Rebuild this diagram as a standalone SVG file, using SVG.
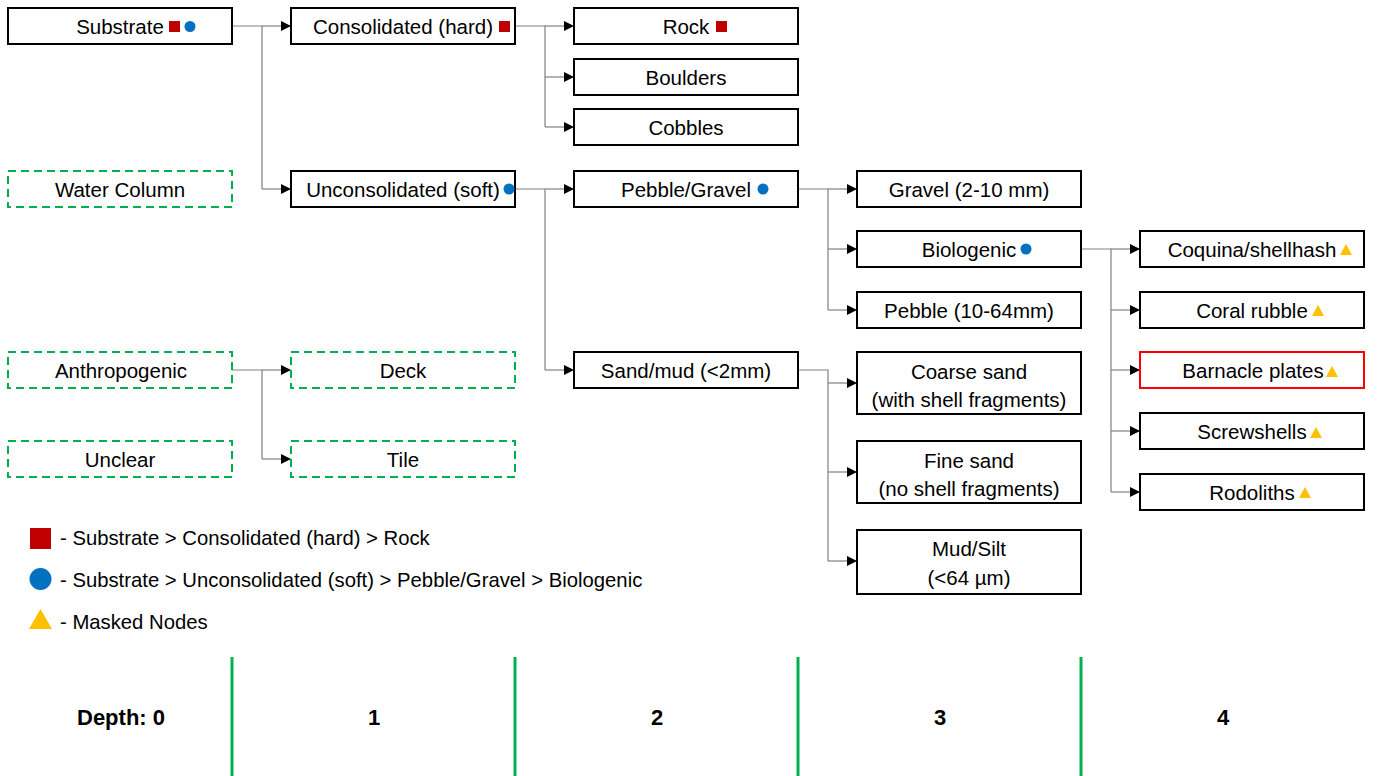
<svg xmlns="http://www.w3.org/2000/svg" width="1382" height="776" viewBox="0 0 1382 776">
<style>
  .box{fill:#fff;stroke:#000;stroke-width:2}
  .dash{fill:#fff;stroke:#00b050;stroke-width:2;stroke-dasharray:8 5}
  .red{fill:#fff;stroke:#ff0000;stroke-width:2}
  .t{font-family:"Liberation Sans",Arial,sans-serif;font-size:20.5px;fill:#000;text-anchor:middle}
  .lg{font-family:"Liberation Sans",Arial,sans-serif;font-size:20.3px;fill:#000}
  .d{font-family:"Liberation Sans",Arial,sans-serif;font-size:22px;font-weight:bold;fill:#000;text-anchor:middle}
  .c{fill:none;stroke:#808080;stroke-width:1.2}
  .sq{fill:#c00000}
  .ci{fill:#0070c0}
  .tr{fill:#ffc000}
  .g{stroke:#00b050;stroke-width:3}
</style>
<defs>
  <marker id="ah" markerWidth="10" markerHeight="10" refX="9" refY="5" orient="auto" markerUnits="userSpaceOnUse">
    <path d="M0,0 L10,5 L0,10 z" fill="#000"/>
  </marker>
</defs>

<g id="connectors">
  <path class="c" d="M232,26 H262 V189"/>
  <path class="c" d="M262,26 H290" marker-end="url(#ah)"/>
  <path class="c" d="M262,189 H290" marker-end="url(#ah)"/>

  <path class="c" d="M515,26 H545 V127"/>
  <path class="c" d="M545,26 H573" marker-end="url(#ah)"/>
  <path class="c" d="M545,77 H573" marker-end="url(#ah)"/>
  <path class="c" d="M545,127 H573" marker-end="url(#ah)"/>

  <path class="c" d="M515,189 H545 V370"/>
  <path class="c" d="M545,189 H573" marker-end="url(#ah)"/>
  <path class="c" d="M545,370 H573" marker-end="url(#ah)"/>

  <path class="c" d="M798,189 H828 V310"/>
  <path class="c" d="M828,189 H856" marker-end="url(#ah)"/>
  <path class="c" d="M828,249 H856" marker-end="url(#ah)"/>
  <path class="c" d="M828,310 H856" marker-end="url(#ah)"/>

  <path class="c" d="M798,370 H828 V561"/>
  <path class="c" d="M828,383 H856" marker-end="url(#ah)"/>
  <path class="c" d="M828,472 H856" marker-end="url(#ah)"/>
  <path class="c" d="M828,561 H856" marker-end="url(#ah)"/>

  <path class="c" d="M1081,249 H1111 V492"/>
  <path class="c" d="M1111,249 H1139" marker-end="url(#ah)"/>
  <path class="c" d="M1111,310 H1139" marker-end="url(#ah)"/>
  <path class="c" d="M1111,370 H1139" marker-end="url(#ah)"/>
  <path class="c" d="M1111,431 H1139" marker-end="url(#ah)"/>
  <path class="c" d="M1111,492 H1139" marker-end="url(#ah)"/>

  <path class="c" d="M232,370 H262 V459"/>
  <path class="c" d="M262,370 H290" marker-end="url(#ah)"/>
  <path class="c" d="M262,459 H290" marker-end="url(#ah)"/>
</g>

<g id="substrate">
  <rect class="box" x="8" y="8" width="224" height="36"/>
  <text class="t" x="120" y="33.5">Substrate</text>
  <rect class="sq" x="169" y="21" width="11" height="11"/>
  <circle class="ci" cx="190" cy="26.5" r="5.5"/>
</g>
<g id="water-column">
  <rect class="dash" x="8" y="171" width="224" height="36"/>
  <text class="t" x="120" y="196.5">Water Column</text>
</g>
<g id="anthropogenic">
  <rect class="dash" x="8" y="352" width="224" height="36"/>
  <text class="t" x="121" y="377.5">Anthropogenic</text>
</g>
<g id="unclear">
  <rect class="dash" x="8" y="441" width="224" height="36"/>
  <text class="t" x="120" y="466.5">Unclear</text>
</g>

<g id="consolidated">
  <rect class="box" x="291" y="8" width="224" height="36"/>
  <text class="t" x="403" y="33.5">Consolidated (hard)</text>
  <rect class="sq" x="499" y="21" width="11" height="11"/>
</g>
<g id="unconsolidated">
  <rect class="box" x="291" y="171" width="224" height="36"/>
  <text class="t" x="403" y="196.5">Unconsolidated (soft)</text>
  <circle class="ci" cx="509" cy="189" r="5.5"/>
</g>
<g id="deck">
  <rect class="dash" x="291" y="352" width="224" height="36"/>
  <text class="t" x="403" y="377.5">Deck</text>
</g>
<g id="tile">
  <rect class="dash" x="291" y="441" width="224" height="36"/>
  <text class="t" x="403" y="466.5">Tile</text>
</g>

<g id="rock">
  <rect class="box" x="574" y="8" width="224" height="36"/>
  <text class="t" x="686" y="33.5">Rock</text>
  <rect class="sq" x="716" y="21" width="11" height="11"/>
</g>
<g id="boulders">
  <rect class="box" x="574" y="59" width="224" height="36"/>
  <text class="t" x="686" y="84.5">Boulders</text>
</g>
<g id="cobbles">
  <rect class="box" x="574" y="109" width="224" height="36"/>
  <text class="t" x="686" y="134.5">Cobbles</text>
</g>
<g id="pebble-gravel">
  <rect class="box" x="574" y="171" width="224" height="36"/>
  <text class="t" x="686" y="196.5">Pebble/Gravel</text>
  <circle class="ci" cx="763" cy="189" r="5.5"/>
</g>
<g id="sand-mud">
  <rect class="box" x="574" y="352" width="224" height="36"/>
  <text class="t" x="686" y="377.5">Sand/mud (&lt;2mm)</text>
</g>

<g id="gravel">
  <rect class="box" x="857" y="171" width="224" height="36"/>
  <text class="t" x="969" y="196.5">Gravel (2-10 mm)</text>
</g>
<g id="biologenic">
  <rect class="box" x="857" y="231" width="224" height="36"/>
  <text class="t" x="969" y="256.5">Biologenic</text>
  <circle class="ci" cx="1026" cy="249" r="5.5"/>
</g>
<g id="pebble">
  <rect class="box" x="857" y="292" width="224" height="36"/>
  <text class="t" x="969" y="317.5">Pebble (10-64mm)</text>
</g>
<g id="coarse-sand">
  <rect class="box" x="857" y="352" width="224" height="62"/>
  <text class="t" x="969" y="378.5">Coarse sand</text>
  <text class="t" x="969" y="406.5">(with shell fragments)</text>
</g>
<g id="fine-sand">
  <rect class="box" x="857" y="441" width="224" height="62"/>
  <text class="t" x="969" y="467.5">Fine sand</text>
  <text class="t" x="969" y="495.5">(no shell fragments)</text>
</g>
<g id="mud-silt">
  <rect class="box" x="857" y="530" width="224" height="64"/>
  <text class="t" x="969" y="555.5">Mud/Silt</text>
  <text class="t" x="969" y="584.5">(&lt;64 µm)</text>
</g>

<g id="coquina">
  <rect class="box" x="1140" y="231" width="224" height="36"/>
  <text class="t" x="1252" y="256.5">Coquina/shellhash</text>
  <polygon class="tr" points="1340,255 1346,244 1352,255"/>
</g>
<g id="coral-rubble">
  <rect class="box" x="1140" y="292" width="224" height="36"/>
  <text class="t" x="1252" y="317.5">Coral rubble</text>
  <polygon class="tr" points="1312,316 1318,305 1324,316"/>
</g>
<g id="barnacle-plates">
  <rect class="red" x="1140" y="352" width="224" height="36"/>
  <text class="t" x="1253" y="377.5">Barnacle plates</text>
  <polygon class="tr" points="1326,377 1332,366 1338,377"/>
</g>
<g id="screwshells">
  <rect class="box" x="1140" y="413" width="224" height="36"/>
  <text class="t" x="1252" y="438.5">Screwshells</text>
  <polygon class="tr" points="1310,438 1316,427 1322,438"/>
</g>
<g id="rodoliths">
  <rect class="box" x="1140" y="474" width="224" height="36"/>
  <text class="t" x="1252" y="499.5">Rodoliths</text>
  <polygon class="tr" points="1299,498 1305,487 1311,498"/>
</g>

<g id="legend">
  <rect class="sq" x="30" y="528" width="21" height="21"/>
  <text class="lg" x="60" y="545">- Substrate &gt; Consolidated (hard) &gt; Rock</text>
  <circle class="ci" cx="40.5" cy="579" r="11"/>
  <text class="lg" x="60" y="587">- Substrate &gt; Unconsolidated (soft) &gt; Pebble/Gravel &gt; Biologenic</text>
  <polygon class="tr" points="29,629 40.5,609 52,629"/>
  <text class="lg" x="60" y="629">- Masked Nodes</text>
</g>

<g id="depth">
  <line class="g" x1="232" y1="657" x2="232" y2="776"/>
  <line class="g" x1="515" y1="657" x2="515" y2="776"/>
  <line class="g" x1="798" y1="657" x2="798" y2="776"/>
  <line class="g" x1="1081" y1="657" x2="1081" y2="776"/>
  <text class="d" x="121" y="725">Depth: 0</text>
  <text class="d" x="374" y="725">1</text>
  <text class="d" x="657" y="725">2</text>
  <text class="d" x="940" y="725">3</text>
  <text class="d" x="1223" y="725">4</text>
</g>
</svg>
